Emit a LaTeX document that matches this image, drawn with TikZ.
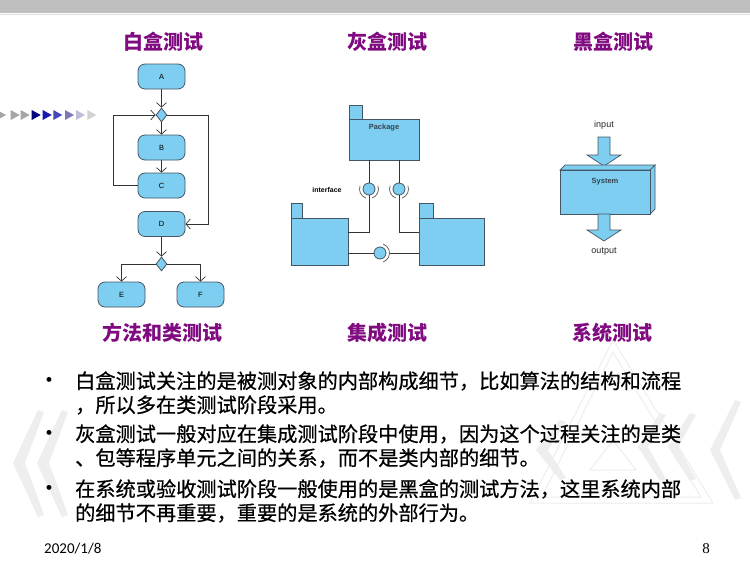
\documentclass[tikz,border=0pt]{standalone}
\usepackage{fontspec}
\setmainfont{Liberation Sans}
\newfontfamily\cjk{Noto Sans CJK SC}
\newfontfamily\cjkm{Noto Sans CJK SC}[FakeBold=0.6]
\newfontfamily\carl{Carlito}
\newfontfamily\lser{Liberation Serif}
\usetikzlibrary{shapes.geometric,arrows.meta}
\definecolor{boxblue}{RGB}{125,206,240}
\definecolor{bordc}{RGB}{70,85,100}
\definecolor{ttl}{RGB}{128,10,128}
\definecolor{wm}{RGB}{238,238,238}
\tikzset{
  fc/.style={draw=bordc, fill=boxblue, rounded corners=7pt, minimum width=47pt, minimum height=25pt, inner sep=0pt, line width=0.8pt, font=\fontsize{7.5}{8}\selectfont},
  dia/.style={draw=bordc, fill=boxblue, diamond, inner sep=0pt, minimum width=11pt, minimum height=14pt, line width=0.8pt},
  arr/.style={draw=black!80, line width=0.7pt, -{Straight Barb[length=4.5pt,width=10pt]}},
  ln/.style={draw=black!80, line width=0.7pt},
  pkg/.style={draw=bordc, fill=boxblue, inner sep=0pt, line width=0.8pt},
  ball/.style={circle, draw=bordc, fill=boxblue, inner sep=0pt, minimum size=12pt, line width=0.8pt},
  sock/.style={draw=black!60, line width=0.8pt},
  title/.style={font=\cjk\bfseries\fontsize{20}{20}\selectfont, text=ttl, inner sep=0pt},
  body/.style={font=\cjkm\fontsize{20.2}{20}\selectfont, anchor=west, inner sep=0pt},
  bul/.style={font=\bfseries\fontsize{17}{17}\selectfont, inner sep=0pt},
  small/.style={font=\fontsize{8}{8}\selectfont, inner sep=0pt},
  blockarrow/.style={draw=bordc, fill=boxblue, line width=0.7pt}
}
\begin{document}
\begin{tikzpicture}[x=1pt,y=-1pt]
\useasboundingbox (0,0) rectangle (750,562);
\fill[white] (0,0) rectangle (750,562);
% top bar
\fill[gray!50] (0,0) rectangle (750,13);
\draw[gray!25, line width=1pt] (0,14) -- (750,14);

% watermark
\fill[wm] (38,410) -- (44,412) -- (25,463) -- (44,515) -- (38,517) -- (13,463) -- cycle;
\fill[wm] (62,410) -- (68,412) -- (49,463) -- (68,515) -- (62,517) -- (37,463) -- cycle;
\draw[wm, line width=1pt] (613,340) -- (530,503) -- (713,503) -- cycle;
\draw[wm, line width=1pt] (613,352) -- (542,497) -- (701,497) -- cycle;
\draw[wm, line width=1pt] (613,440) -- (590,470) -- (636,470) -- cycle;
\fill[wm] (560,420) -- (566,422) -- (548,450) -- (566,478) -- (560,480) -- (536,450) -- cycle;
\fill[wm] (660,413) -- (666,415) -- (648,447) -- (666,479) -- (660,481) -- (638,447) -- cycle;
\fill[wm] (690,413) -- (696,415) -- (678,447) -- (696,479) -- (690,481) -- (668,447) -- cycle;
\fill[wm] (735,400) -- (741,402) -- (720,450) -- (741,498) -- (735,500) -- (710,450) -- cycle;

% left triangles
\foreach \l/\c in {-3/{gray!70}, 10.7/{gray!70}, 20.7/{gray!70}, 31.7/{blue!50!black}, 42.7/{blue!65!black!90}, 53.3/{blue!45!gray}, 65/{blue!30!gray!80}, 76/{blue!25!gray!40}, 87.3/{gray!35}}
  \fill[\c] (\l,110) -- (\l+9,115) -- (\l,120) -- cycle;

% titles
\node[title] (t1) at (163,42) {白盒测试};
\node[title] (t2) at (387,42) {灰盒测试};
\node[title] (t3) at (613,42) {黑盒测试};
\node[title] (t4) at (162,333) {方法和类测试};
\node[title] (t5) at (387,333) {集成测试};
\node[title] (t6) at (612,333) {系统测试};

% white box flowchart
\node[fc] (A) at (161.5,76.5) {A};
\node[dia] (d1) at (161.5,115) {};
\node[fc] (B) at (161.5,147.5) {B};
\node[fc] (C) at (161.5,185.5) {C};
\node[fc] (D) at (161.5,224) {D};
\node[dia] (d2) at (161.5,264) {};
\node[fc] (E) at (121.5,294.5) {E};
\node[fc] (F) at (200.5,294.5) {F};
\draw[arr] (A) -- (d1);
\draw[arr] (d1) -- (B);
\draw[arr] (B) -- (C);
\draw[arr] (C.west) -- ++(-24,0) |- (d1.west);
\draw[arr] (d1.east) -- ++(41,0) |- (D.east);
\draw[arr] (D) -- (d2);
\draw[arr] (d2.west) -| (E.north);
\draw[arr] (d2.east) -| (F.north);

% grey box diagram
\draw[pkg] (349,105) rectangle (362,119);
\node[pkg, minimum width=70pt, minimum height=41pt] (P) at (384,139.5) {};
\node[small, font=\bfseries\fontsize{7.5}{8}\selectfont, text=bordc!80!black] (ptxt) at (384,128) {Package};
\draw[pkg] (291,203) rectangle (302,218);
\node[pkg, minimum width=57pt, minimum height=47pt] (L) at (319.5,241.5) {};
\draw[pkg] (419,203) rectangle (433,218);
\node[pkg, minimum width=65pt, minimum height=47pt] (R) at (451.5,241.5) {};
\node[ball] (b1) at (369,189) {};
\node[ball] (b2) at (399,189) {};
\node[ball] (b3) at (380,253) {};
\node[small, font=\bfseries\fontsize{7}{8}\selectfont] (itf) at (327,190) {interface};
\coordinate (j1) at (348,232);
\coordinate (j2) at (419,232);
\draw[ln] (b1.north) -- (b1.north |- P.south);
\draw[ln] (b2.north) -- (b2.north |- P.south);
\draw[ln] (b1.south) |- (j1);
\draw[ln] (b2.south) |- (j2);
\draw[ln] (L.east |- b3) -- (b3.west);
\draw[ln] ([shift={(0:9pt)}]b3.center) -- (R.west |- b3);
\draw[sock] ([shift={(160:9.5pt)}]b1.center) arc[start angle=160, end angle=250, radius=9.5pt];
\draw[sock] ([shift={(-70:9.5pt)}]b1.center) arc[start angle=-70, end angle=20, radius=9.5pt];
\draw[sock] ([shift={(160:9.5pt)}]b2.center) arc[start angle=160, end angle=250, radius=9.5pt];
\draw[sock] ([shift={(-70:9.5pt)}]b2.center) arc[start angle=-70, end angle=20, radius=9.5pt];
\draw[sock] ([shift={(-70:9.5pt)}]b3.center) arc[start angle=-70, end angle=70, radius=9.5pt];

% black box
\node[small, font=\fontsize{9}{9}\selectfont, text=black!85] (in) at (604,125) {input};
\draw[blockarrow] (598,137) -- (610,137) -- (610,155) -- (621,155) -- (604,166) -- (587,155) -- (598,155) -- cycle;
\draw[blockarrow] (560,170) -- (565,165) -- (655,165) -- (650,170) -- cycle;
\draw[blockarrow] (650,170) -- (655,165) -- (655,209) -- (650,214) -- cycle;
\node[pkg, minimum width=90pt, minimum height=44pt] (S) at (605,192) {};
\node[small, font=\bfseries\fontsize{7.5}{8}\selectfont, text=bordc!80!black] (stxt) at (605,182) {System};
\draw[blockarrow] (598,214) -- (610,214) -- (610,230) -- (621,230) -- (604,241) -- (587,230) -- (598,230) -- cycle;
\node[small, font=\fontsize{9}{9}\selectfont, text=black!85] (out) at (604,252) {output};

% bullets
\node[bul] (u1) at (49,381) {•};
\node[bul] (u2) at (49,434) {•};
\node[bul] (u3) at (49,489) {•};
\node[body] (l1) at (75,381) {白盒测试关注的是被测对象的内部构成细节，比如算法的结构和流程};
\node[body] (l2) at (75,405) {，所以多在类测试阶段采用。};
\node[body] (l3) at (75,434) {灰盒测试一般对应在集成测试阶段中使用，因为这个过程关注的是类};
\node[body] (l4) at (75,458) {、包等程序单元之间的关系，而不是类内部的细节。};
\node[body] (l5) at (75,489) {在系统或验收测试阶段一般使用的是黑盒的测试方法，这里系统内部};
\node[body] (l6) at (75,513) {的细节不再重要，重要的是系统的外部行为。};

% footer
\node[font=\carl\fontsize{15}{15}\selectfont, anchor=west, inner sep=0pt] (date) at (44,549) {2020/1/8};
\node[font=\lser\fontsize{15}{15}\selectfont, inner sep=0pt] (pg) at (706,549) {8};
\end{tikzpicture}
\end{document}
